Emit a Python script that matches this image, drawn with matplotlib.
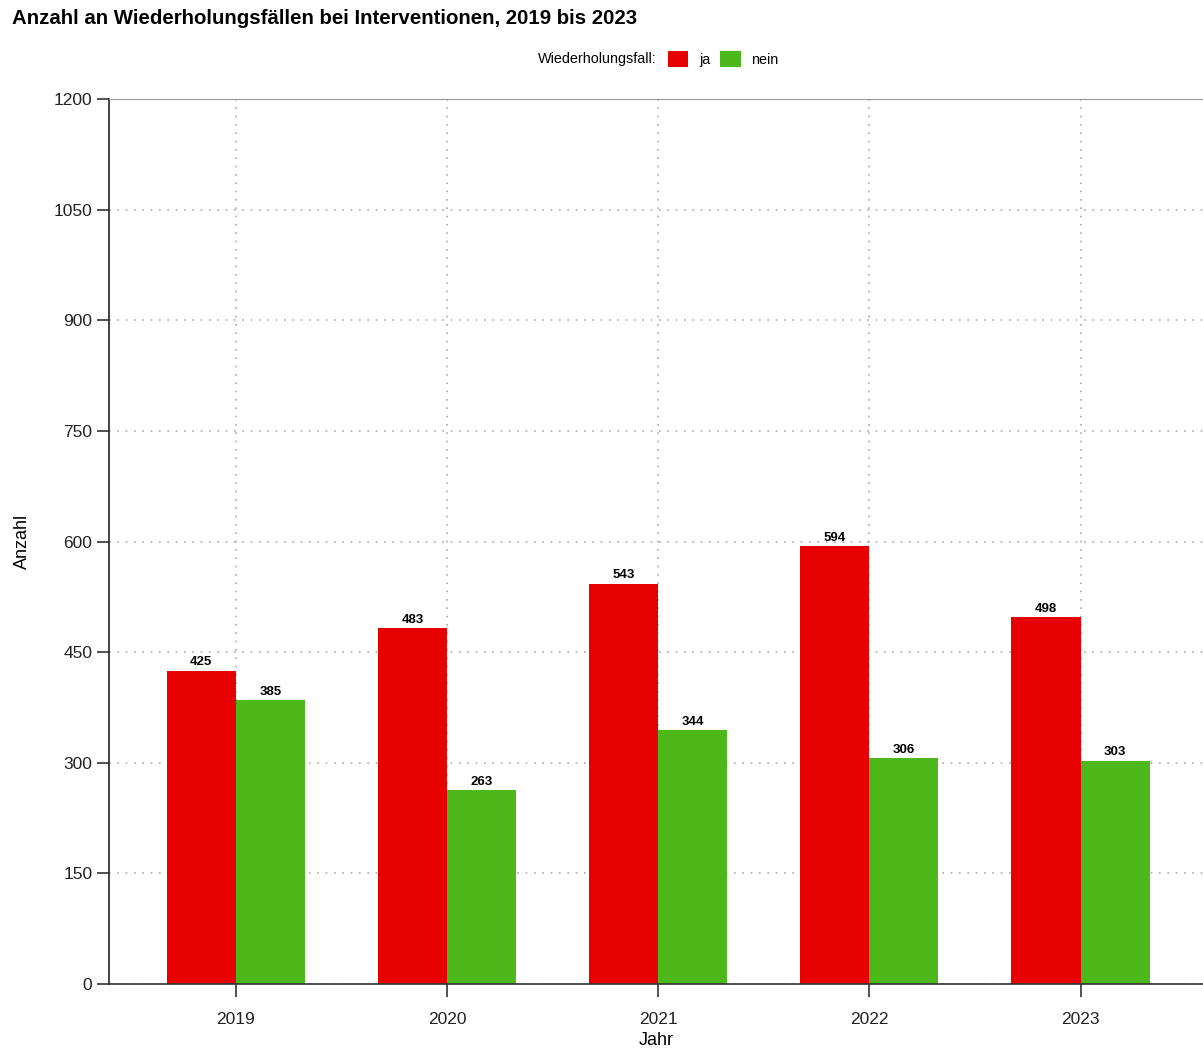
import matplotlib.pyplot as plt
import numpy as np
from matplotlib.patches import Patch

jahre = ["2019", "2020", "2021", "2022", "2023"]
ja = [425, 483, 543, 594, 498]
nein = [385, 263, 344, 306, 303]
y_ticks = [0, 150, 300, 450, 600, 750, 900, 1050, 1200]

ROT = "#e60000"
GRUEN = "#4cb81a"

plt.rcParams['font.family'] = ['Liberation Sans', 'DejaVu Sans']

fig = plt.figure(figsize=(12.03, 10.48), dpi=100)
ax = fig.add_axes([109 / 1203, 64 / 1048, 1 - 109 / 1203, (984 - 99) / 1048])

x = np.arange(len(jahre))
breite = 0.327
b1 = ax.bar(x - breite / 2, ja, breite, color=ROT, zorder=2)
b2 = ax.bar(x + breite / 2, nein, breite, color=GRUEN, zorder=2)

for bars in (b1, b2):
    for b in bars:
        ax.text(b.get_x() + b.get_width() / 2, b.get_height() + 3, str(int(b.get_height())),
                ha='center', va='bottom', fontsize=9.5, fontweight='bold', zorder=3)

ax.set_xlim(-0.6, 4.58)
ax.set_ylim(0, 1200)
ax.set_xticks(x)
ax.set_xticklabels(jahre)
ax.set_yticks(y_ticks)
ax.tick_params(axis='both', length=9, width=1.2, color='#333333', labelsize=12.5, labelcolor='#222222')
ax.tick_params(axis='x', pad=11)
ax.tick_params(axis='y', pad=3)

ax.grid(True, linestyle=(0, (1, 4)), color='#aaaaaa', linewidth=1.2, zorder=0)

ax.spines['right'].set_visible(False)
ax.spines['top'].set_color('#999999')
ax.spines['left'].set_color('#222222')
ax.spines['bottom'].set_color('#333333')
ax.spines['left'].set_linewidth(1.2)
ax.spines['bottom'].set_linewidth(1.2)

ax.set_xlabel("Jahr", fontsize=13, labelpad=4)
ax.set_ylabel("Anzahl", fontsize=13, labelpad=16)

fig.text(12 / 1203, 1 - 18 / 1048, "Anzahl an Wiederholungsfällen bei Interventionen, 2019 bis 2023",
         fontsize=14.7, fontweight='bold', ha='left', va='center')

fig.text(657 / 1203, 1 - 59 / 1048, "Wiederholungsfall:", fontsize=10.4, ha='right', va='center')
handles = [Patch(facecolor=ROT, label="ja"), Patch(facecolor=GRUEN, label="nein")]
fig.legend(handles=handles, loc='center left', bbox_to_anchor=(668 / 1203, 1 - 59 / 1048), ncol=2,
           frameon=False, fontsize=10.4, handlelength=1.4, handleheight=1.4, handletextpad=0.75,
           columnspacing=0.7, borderaxespad=0, borderpad=0)

fig.savefig("out.png", dpi=100)
